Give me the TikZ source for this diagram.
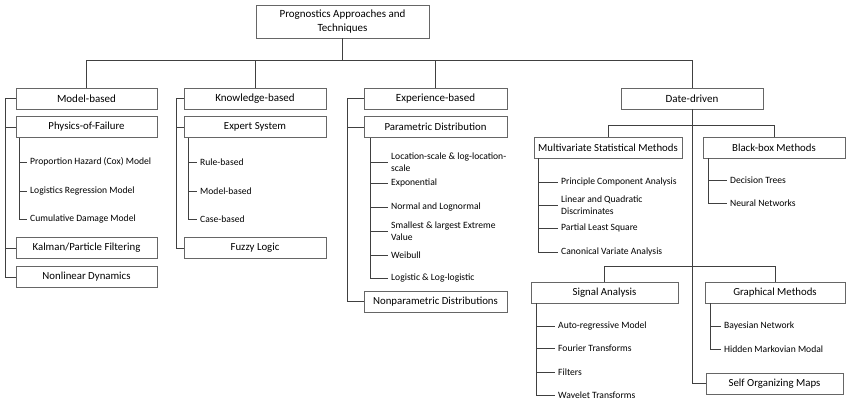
\documentclass[tikz,border=0pt]{standalone}
\usepackage{fontspec}
\setmainfont{Carlito}
\usepackage{tikz}
\usetikzlibrary{calc}
\tikzset{box/.style={draw=black!60,fill=white,line width=0.8pt,minimum height=21pt,inner sep=1pt,text=black,font=\fontsize{11}{13}\selectfont}}
\tikzset{subbox/.style={box,font=\fontsize{10.8}{12}\selectfont}}
\tikzset{item/.style={anchor=west,inner xsep=3pt,inner ysep=1pt,align=left,text=black,font=\fontsize{9.6}{11.5}\selectfont}}
\tikzset{link/.style={draw=black!75,line width=0.8pt}}

\begin{document}
\begin{tikzpicture}[x=1pt,y=-1pt]
\useasboundingbox (0,0) rectangle (850,405);

\node[box,minimum width=173pt,minimum height=33pt,align=center,font=\fontsize{11}{14}\selectfont] (root) at (342.5,21.5) {Prognostics Approaches and\\Techniques};

% first level
\node[box,minimum width=141pt] (model) at (86.5,98.5) {Model-based};
\node[box,minimum width=142pt] (know) at (255,98.5) {Knowledge-based};
\node[box,minimum width=143pt] (exper) at (435.5,98.5) {Experience-based};
\node[box,minimum width=142pt] (data) at (692,98.5) {Date-driven};

\node[subbox,minimum width=141pt] (pof) at (86.5,127) {Physics-of-Failure};
\node[subbox,minimum width=141pt] (kalman) at (86.5,248) {Kalman/Particle Filtering};
\node[subbox,minimum width=141pt] (nonlin) at (86.5,277) {Nonlinear Dynamics};
\node[subbox,minimum width=142pt] (expert) at (255,127) {Expert System};
\node[subbox,minimum width=142pt] (fuzzy) at (255,248) {Fuzzy Logic};
\node[subbox,minimum width=143pt] (param) at (435.5,127) {Parametric Distribution};
\node[subbox,minimum width=143pt] (nonparam) at (435.5,301.5) {Nonparametric Distributions};
\node[subbox,minimum width=148pt] (multi) at (608,147.5) {Multivariate Statistical Methods};
\node[subbox,minimum width=142pt] (black) at (774,147.5) {Black-box Methods};
\node[subbox,minimum width=147pt] (signal) at (604.5,292.5) {Signal Analysis};
\node[subbox,minimum width=140pt] (graph) at (775,292.5) {Graphical Methods};
\node[subbox,minimum width=137pt] (som) at (774.5,383.5) {Self Organizing Maps};

% leaves
\foreach \i/\y/\t in {1/162/{Proportion Hazard (Cox) Model},2/191/{Logistics Regression Model},3/219/{Cumulative Damage Model}}
	\node[item] (pof\i) at (27,\y) {\t};
\foreach \i/\y/\t in {1/162/Rule-based,2/191/Model-based,3/219/Case-based}
	\node[item] (expert\i) at (197,\y) {\t};
\foreach \i/\y/\t in {1/162/{Location-scale \& log-location-\\scale},2/183/Exponential,3/207/{Normal and Lognormal},4/231/{Smallest \& largest Extreme\\Value},5/255/Weibull,6/278/{Logistic \& Log-logistic}}
	\node[item] (param\i) at (388,\y) {\t};
\foreach \i/\y/\t in {1/182/{Principle Component Analysis},2/205/{Linear and Quadratic\\Discriminates},3/228/{Partial Least Square},4/252/{Canonical Variate Analysis}}
	\node[item] (multi\i) at (558,\y) {\t};
\foreach \i/\y/\t in {1/180/{Decision Trees},2/203/{Neural Networks}}
	\node[item] (black\i) at (727,\y) {\t};
\foreach \i/\y/\t in {1/326/{Auto-regressive Model},2/348/{Fourier Transforms},3/372/Filters,4/395/{Wavelet Transforms}}
	\node[item] (signal\i) at (555,\y) {\t};
\foreach \i/\y/\t in {1/326/{Bayesian Network},2/349/{Hidden Markovian Modal}}
	\node[item] (graph\i) at (721,\y) {\t};

% main tree
\coordinate (hub) at ($(root.south)+(0,22)$);
\draw[link] (root.south) -- (hub);
\foreach \n in {model,know,exper,data}
	\draw[link] (\n.north) |- (hub);

% outer brackets
\draw[link] (model.west) -- ++(-10,0) |- (nonlin.west);
\foreach \n in {pof,kalman}
	\draw[link] (\n.west) -- ++(-10,0);
\draw[link] (know.west) -- ++(-7,0) |- (fuzzy.west);
\draw[link] (expert.west) -- ++(-7,0);
\draw[link] (exper.west) -- ++(-16,0) |- (nonparam.west);
\draw[link] (param.west) -- ++(-16,0);

% inner brackets
\coordinate (pofl) at ([xshift=4pt]pof.south west);
\draw[link] (pofl) |- (pof3.west);
\foreach \i in {1,2}
	\draw[link] (pofl |- pof\i.west) -- (pof\i.west);
\coordinate (expertl) at ([xshift=5pt]expert.south west);
\draw[link] (expertl) |- (expert3.west);
\foreach \i in {1,2}
	\draw[link] (expertl |- expert\i.west) -- (expert\i.west);
\coordinate (paraml) at ([xshift=7pt]param.south west);
\draw[link] (paraml) |- (param6.west);
\foreach \i in {1,...,5}
	\draw[link] (paraml |- param\i.west) -- (param\i.west);

% data-driven part
\draw[link] (data.south) |- (som.west);
\draw[link] (multi.north) -- ++(0,-11) -| (black.north);
\draw[link] (signal.north) -- ++(0,-15) -| (graph.north);
\coordinate (multil) at ([xshift=5pt]multi.south west);
\draw[link] (multil) |- (multi4.west);
\foreach \i in {1,2,3}
	\draw[link] (multil |- multi\i.west) -- (multi\i.west);
\coordinate (blackl) at ([xshift=6pt]black.south west);
\draw[link] (blackl) |- (black2.west);
\draw[link] (blackl |- black1.west) -- (black1.west);
\coordinate (signall) at ([xshift=6pt]signal.south west);
\draw[link] (signall) |- (signal4.west);
\foreach \i in {1,2,3}
	\draw[link] (signall |- signal\i.west) -- (signal\i.west);
\coordinate (graphl) at ([xshift=6pt]graph.south west);
\draw[link] (graphl) |- (graph2.west);
\draw[link] (graphl |- graph1.west) -- (graph1.west);
\end{tikzpicture}
\end{document}
